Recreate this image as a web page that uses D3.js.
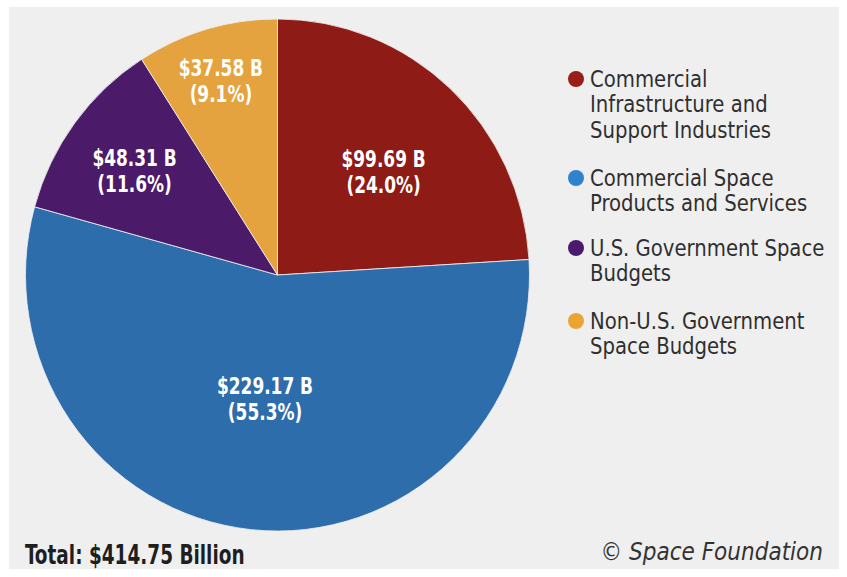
<!DOCTYPE html>
<html>
<head>
<meta charset="utf-8">
<script src="https://cdn.jsdelivr.net/npm/d3@7"></script>
<style>
  html, body { margin: 0; padding: 0; background: #ffffff; }
  svg { display: block; }
</style>
</head>
<body>
<script>
// Global space economy breakdown (billions USD)
const categories = [
  "Commercial Infrastructure and Support Industries",
  "Commercial Space Products and Services",
  "U.S. Government Space Budgets",
  "Non-U.S. Government Space Budgets"
];
const values = [99.69, 229.17, 48.31, 37.58];
const percents = ["24.0%", "55.3%", "11.6%", "9.1%"];
const legendLines = [
  ["Commercial", "Infrastructure and", "Support Industries"],
  ["Commercial Space", "Products and Services"],
  ["U.S. Government Space", "Budgets"],
  ["Non-U.S. Government", "Space Budgets"]
];
const sliceColors = ["#8e1b15", "#2e6dab", "#4b1a69", "#e4a33f"];
const dotColors = ["#9a1d1a", "#2f82cc", "#4a1a6e", "#eba434"];
const totalLabel = "Total: $414.75 Billion";
const creditLabel = "© Space Foundation";

const W = 847, H = 577;
const svg = d3.select("body").append("svg").attr("width", W).attr("height", H);

// light panel background
svg.append("rect").attr("x", 9).attr("y", 7).attr("width", 830).attr("height", 562)
  .attr("fill", "#efefef");

const cx = 277.5, cy = 275, R = 252, squash = 1.016;

const pie = d3.pie().sort(null).value(d => d)(values);
const arc = d3.arc().innerRadius(0).outerRadius(R);

const g = svg.append("g").attr("transform", `translate(${cx},${cy}) scale(1,${squash})`);
g.selectAll("path").data(pie).join("path")
  .attr("d", arc)
  .attr("fill", (d, i) => sliceColors[i])
  .attr("stroke", "#f3f3f3")
  .attr("stroke-width", 0.8);

// slice labels: value on first line, share on second (condensed bold)
const labelRadius = [0.59, 0.475, 0.705, 0.80];
const labelTurn = [0.04, 0, 0, 0];
const condensed = "'DejaVu Sans Condensed', 'DejaVu Sans', sans-serif";
const labels = svg.append("g");
pie.forEach((d, i) => {
  const r = R * labelRadius[i];
  const a = (d.startAngle + d.endAngle) / 2 + labelTurn[i];
  const x = cx + r * Math.sin(a), y = cy - r * Math.cos(a) * squash;
  const t = labels.append("g")
    .attr("transform", `translate(${x},${y}) scale(0.82,1)`)
    .append("text")
    .attr("text-anchor", "middle")
    .attr("fill", "#ffffff")
    .attr("font-family", condensed)
    .attr("font-weight", "bold")
    .attr("font-size", 23);
  t.append("tspan").attr("x", 0).attr("y", -2).text(`$${values[i].toFixed(2)} B`);
  t.append("tspan").attr("x", 0).attr("y", 24).text(`(${percents[i]})`);
});

// legend
const legendTop = [79, 178, 248, 321];
const lineH = 25.5;
const legend = svg.append("g");
categories.forEach((c, i) => {
  legend.append("circle")
    .attr("cx", 576).attr("cy", legendTop[i]).attr("r", 8)
    .attr("fill", dotColors[i]);
  const t = legend.append("g")
    .attr("transform", `translate(590,${legendTop[i] + 8}) scale(0.93,1)`)
    .append("text")
    .attr("fill", "#2f2f2f")
    .attr("font-family", condensed)
    .attr("font-size", 23.5);
  legendLines[i].forEach((ln, j) => {
    t.append("tspan").attr("x", 0).attr("y", j * lineH).text(ln);
  });
});

// footer
svg.append("g")
  .attr("transform", "translate(25,564) scale(0.76,1)")
  .append("text")
  .attr("fill", "#1e1e1e")
  .attr("font-family", condensed)
  .attr("font-weight", "bold")
  .attr("font-size", 27)
  .text(totalLabel);

svg.append("text")
  .attr("x", 823).attr("y", 560)
  .attr("text-anchor", "end")
  .attr("fill", "#333333")
  .attr("font-family", condensed)
  .attr("font-style", "italic")
  .attr("font-size", 24)
  .text(creditLabel);
</script>
</body>
</html>
